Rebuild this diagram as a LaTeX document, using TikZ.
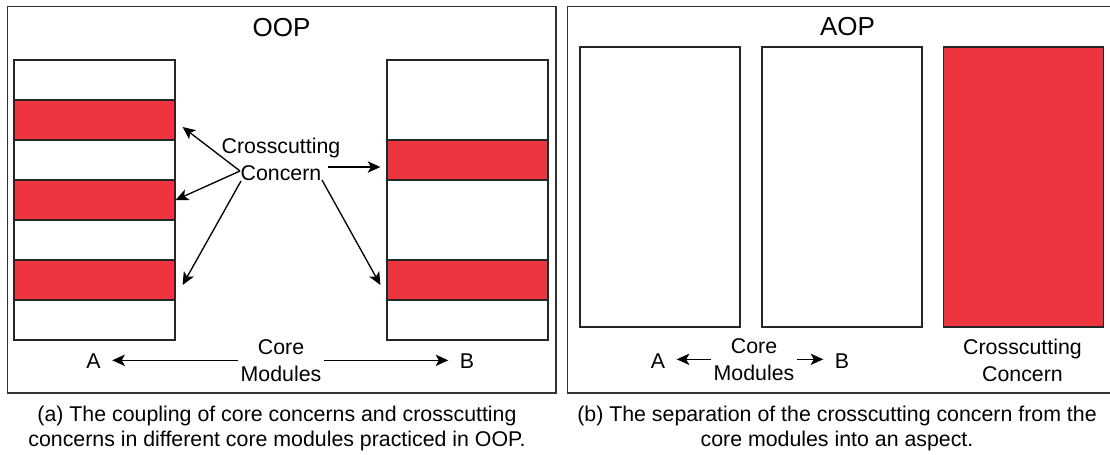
\documentclass[tikz,border=0pt]{standalone}
\usepackage{fontspec}
\setmainfont{Liberation Sans}
\usetikzlibrary{arrows.meta,positioning}
\definecolor{cRed}{HTML}{EE343F}
\definecolor{cLine}{HTML}{333333}
\newcommand{\lblfont}{\fontsize{16}{20}\selectfont}
\newcommand{\ttlfont}{\fontsize{19.5}{23}\selectfont}
\newcommand{\capfont}{\fontsize{16}{18.75}\selectfont}
\tikzset{
  panel/.style={draw=cLine,line width=1pt},
  module/.style={draw=black!85,line width=0.9pt,fill=white,inner sep=0pt,
    minimum width=120.75pt,minimum height=210pt},
  band/.style={module,fill=cRed,minimum height=30pt},
  ttl/.style={font=\ttlfont,inner sep=0pt,anchor=base},
  % base of a two-line label sits on its last line
  lbl/.style={font=\lblfont,align=center,inner sep=1.5pt,anchor=base},
  captext/.style={font=\capfont,align=center,inner sep=0pt,anchor=base},
  arrow/.style={-{Stealth[length=9.5pt,width=8.5pt,inset=2.4pt]},line width=1pt},
}

\begin{document}
\begin{tikzpicture}[x=0.75pt,y=-0.75pt]
  \useasboundingbox (0,0) rectangle (1110,454);

  % left panel: OOP
  \draw[panel] (7.5,6.5) rectangle (556,393);
  \node[ttl] (oop) at (281.5,36) {OOP};
  \node[module] (ma) at (94.5,200) {};
  \node[band] (a1) at (94.5,120) {};
  \node[band] (a2) at (94.5,200) {};
  \node[band] (a3) at (94.5,280) {};
  \node[module] (mb) at (467.5,200) {};
  \node[band] (b1) at (467.5,160) {};
  \node[band] (b2) at (467.5,280) {};
  \node[lbl] (cc) at (281,180) {Crosscutting\\Concern};
  \coordinate (cc-w)  at (240,171);
  \coordinate (cc-sw) at (241,181);
  \coordinate (cc-e)  at (328,167);
  \coordinate (cc-se) at (322,180);
  \draw[arrow] (cc-w)  -- ([shift={(7,7)}]a1.east);
  \draw[arrow] (cc-w)  -- (a2.east);
  \draw[arrow] (cc-sw) -- ([shift={(7,5)}]a3.east);
  \draw[arrow] (cc-e)  -- ([shift={(-6,7)}]b1.west);
  \draw[arrow] (cc-se) -- ([shift={(-6,5)}]b2.west);
  \node[lbl] (cm-a) at (281,381) {Core\\Modules};
  \node[lbl] (la) at (93.5,368) {A};
  \node[lbl] (lb) at (467,368) {B};
  \draw[arrow,shorten >=7pt] (cm-a.west) -- (cm-a.west -| la.east);
  \draw[arrow,shorten >=7pt] (cm-a.east) -- (cm-a.east -| lb.west);
  \node[captext] (cap-a) at (277,446)
    {(a) The coupling of core concerns and crosscutting\\concerns in different core modules practiced in OOP.};

  % right panel: AOP
  \draw[panel] (567.5,6.5) rectangle (1112,393);
  \node[ttl] (aop) at (847.5,35) {AOP};
  \node[module,minimum width=120pt] (m1) at (660,187) {};
  \node[module,minimum width=120pt] (m2) at (842,187) {};
  \node[module,minimum width=120pt,fill=cRed] (m3) at (1023.5,187) {};
  \node[lbl] (cm-b) at (754,380) {Core\\Modules};
  \node[lbl] (la2) at (658,368) {A};
  \node[lbl] (lb2) at (842,368) {B};
  \draw[arrow,shorten >=7pt] (cm-b.west) -- (cm-b.west -| la2.east);
  \draw[arrow,shorten >=7pt] (cm-b.east) -- (cm-b.east -| lb2.west);
  \node[lbl] (cc2) at (1022.5,381) {Crosscutting\\Concern};
  \node[captext] (cap-b) at (837,446)
    {(b) The separation of the crosscutting concern from the\\core modules into an aspect.};
\end{tikzpicture}
\end{document}
